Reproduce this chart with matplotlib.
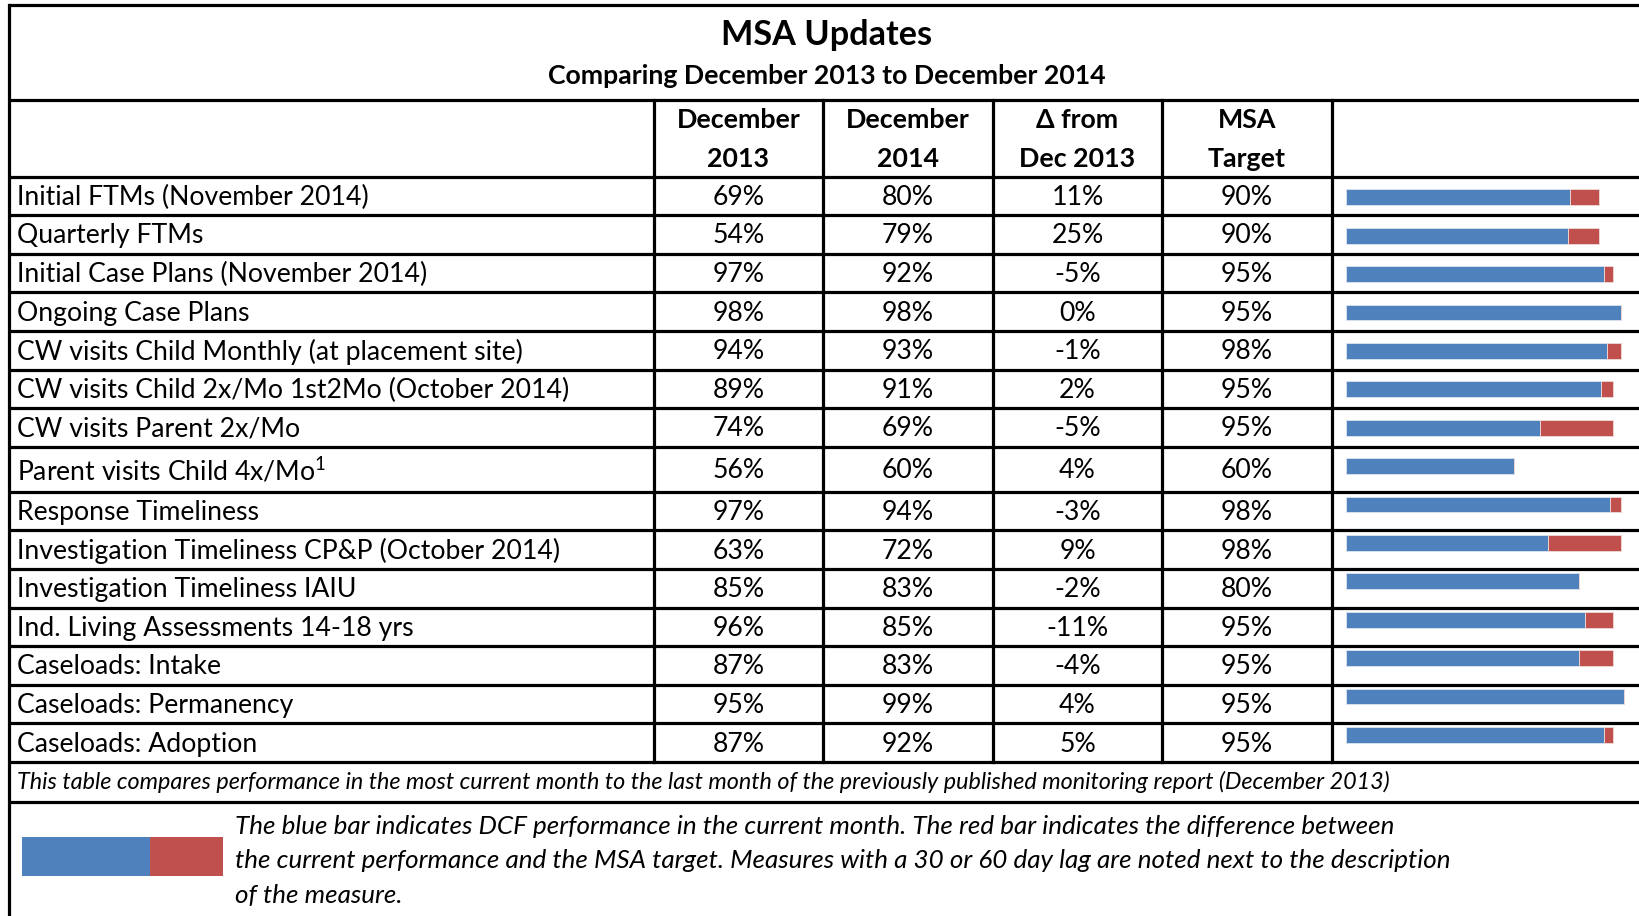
import matplotlib
matplotlib.use('Agg')
import matplotlib.pyplot as plt
from matplotlib.patches import Rectangle

plt.rcParams['font.family'] = ['Lato', 'DejaVu Sans']
plt.rcParams['mathtext.fontset'] = 'custom'
plt.rcParams['mathtext.rm'] = 'Lato'
plt.rcParams['mathtext.it'] = 'Lato:italic'

# table data
measures = ['Initial FTMs (November 2014)', 'Quarterly FTMs',
            'Initial Case Plans (November 2014)', 'Ongoing Case Plans',
            'CW visits Child Monthly (at placement site)',
            'CW visits Child 2x/Mo 1st2Mo (October 2014)',
            'CW visits Parent 2x/Mo', 'Parent visits Child 4x/Mo$^{\\mathrm{1}}$',
            'Response Timeliness', 'Investigation Timeliness CP&P (October 2014)',
            'Investigation Timeliness IAIU', 'Ind. Living Assessments 14-18 yrs',
            'Caseloads: Intake', 'Caseloads: Permanency', 'Caseloads: Adoption']
dec2013 = [69, 54, 97, 98, 94, 89, 74, 56, 97, 63, 85, 96, 87, 95, 87]
dec2014 = [80, 79, 92, 98, 93, 91, 69, 60, 94, 72, 83, 85, 83, 99, 92]
delta = [11, 25, -5, 0, -1, 2, -5, 4, -3, 9, -2, -11, -4, 4, 5]
target = [90, 90, 95, 95, 98, 95, 95, 60, 98, 98, 80, 95, 95, 95, 95]
headers = ['December\n2013', 'December\n2014', '\u0394 from\nDec 2013', 'MSA\nTarget']

title = 'MSA Updates'
subtitle = 'Comparing December 2013 to December 2014'
footnote = ('This table compares performance in the most current month to the last month '
            'of the previously published monitoring report (December 2013)')
legend_lines = ['The blue bar indicates DCF performance in the current month. The red bar indicates the difference between',
                'the current performance and the MSA target. Measures with a 30 or 60 day lag are noted next to the description',
                'of the measure.']

BLUE = '#4f81bd'
RED = '#c0504d'

W, H = 1640, 916
fig = plt.figure(figsize=(W / 100, H / 100), dpi=100)
ax = fig.add_axes([0, 0, 1, 1])
ax.set_xlim(0, W)
ax.set_ylim(H, 0)
ax.axis('off')

# layout in pixels
left = 9
col_x = [654, 823, 993, 1162, 1332]
top = 5
head_top = 99.5
row_top = 176.5
row_h = [38.6] * 15
row_h[7] = 45
edges = [row_top]
for h in row_h:
    edges.append(edges[-1] + h)
foot_bottom = edges[-1] + 40
lw = 2.3

# horizontal lines
for y in [top, head_top] + edges + [foot_bottom]:
    ax.plot([left, W], [y, y], color='black', lw=lw, solid_capstyle='butt')
# vertical lines
ax.plot([left, left], [top, H], color='black', lw=lw)
for x in col_x:
    ax.plot([x, x], [head_top, edges[-1]], color='black', lw=lw)

# title
ax.text(827, 35, title, ha='center', va='center', fontsize=24.7, fontweight='bold')
ax.text(827, 76, subtitle, ha='center', va='center', fontsize=19.2, fontweight='bold')

# headers
for i, hd in enumerate(headers):
    cx = (col_x[i] + col_x[i + 1]) / 2
    l1, l2 = hd.split('\n')
    ax.text(cx, 120, l1, ha='center', va='center', fontsize=19.3, fontweight='bold')
    ax.text(cx, 159, l2, ha='center', va='center', fontsize=19.3, fontweight='bold')

# rows
for r in range(15):
    cy = (edges[r] + edges[r + 1]) / 2 + 1.5
    ax.text(17, cy, measures[r], ha='left', va='center', fontsize=19.2)
    vals = [dec2013[r], dec2014[r], delta[r], target[r]]
    for i, v in enumerate(vals):
        cx = (col_x[i] + col_x[i + 1]) / 2
        ax.text(cx, cy, '{}%'.format(v), ha='center', va='center', fontsize=19.2)

# footnote
ax.text(17, (edges[-1] + foot_bottom) / 2, footnote, ha='left', va='center',
        fontsize=16.8, style='italic')

# legend swatch
ax.add_patch(Rectangle((22, 837), 127.6, 38.5, color=BLUE, lw=0))
ax.add_patch(Rectangle((149.6, 837), 73.2, 38.5, color=RED, lw=0))
for i, line in enumerate(legend_lines):
    ax.text(235, 826 + 35 * i, line, ha='left', va='center', fontsize=18.7, style='italic')

# bar chart overlay
x0, k = 1345.7, 2.81
b_top, b_bot = 178.1, 754.1
bax = fig.add_axes([x0 / W, 1 - b_bot / H, 100 * k / W, (b_bot - b_top) / H])
bax.set_xlim(0, 100)
bax.set_ylim(14.5, -0.5)
bax.axis('off')
ypos = list(range(15))
gap = [max(t - v, 0) for t, v in zip(target, dec2014)]
bax.barh(ypos, dec2014, height=0.41, color=BLUE, edgecolor='#d6e0ee', linewidth=0.7)
bax.barh(ypos, gap, left=dec2014, height=0.41, color=RED, edgecolor='#ecd3d2', linewidth=0.7)

fig.savefig('out.png', dpi=100)
